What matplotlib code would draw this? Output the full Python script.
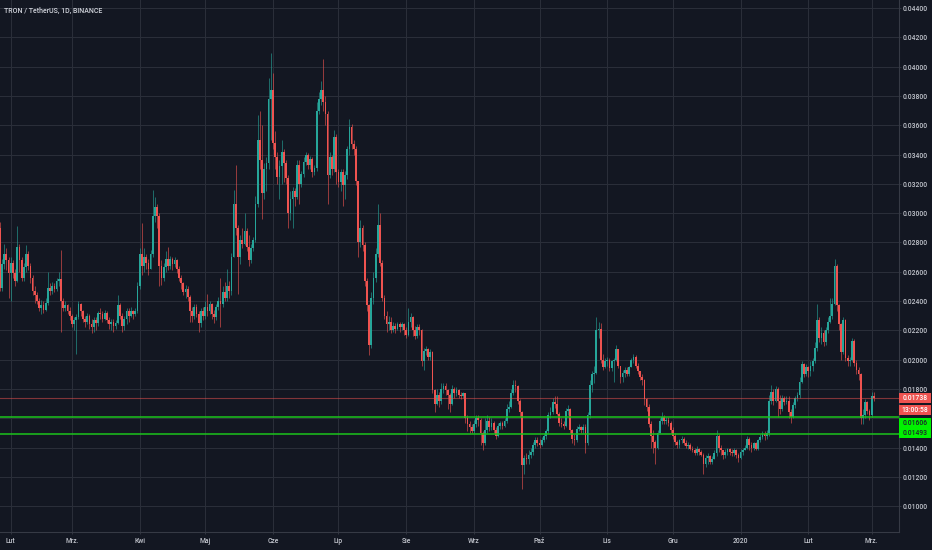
import numpy as np
import matplotlib
matplotlib.use("Agg")
import matplotlib.pyplot as plt
from matplotlib.patches import Rectangle

# ---------------- data (prices in units of 1e-5 USDT) ----------------
SCALE = 1e-5
first_day = -5          # day index of first candle, relative to 2019-02-01
first_open = 2900

closes = [
    2490, 2650, 2720, 2680, 2590, 2660, 2590, 2540, 2770, 2680,
    2560, 2630, 2720, 2640, 2560, 2470, 2440, 2400, 2350, 2370,
    2340, 2390, 2490, 2470, 2500, 2480, 2540, 2550, 2400, 2350,
    2370, 2330, 2300, 2240, 2270, 2290, 2380, 2330, 2280, 2260,
    2300, 2240, 2220, 2270, 2250, 2320, 2310, 2280, 2320, 2270,
    2240, 2260, 2230, 2250, 2370, 2300, 2230, 2280, 2330, 2300,
    2330, 2310, 2330, 2500, 2720, 2640, 2700, 2660, 2620, 2720,
    2980, 3040, 2980, 2640, 2560, 2630, 2690, 2640, 2690, 2650,
    2680, 2620, 2560, 2520, 2460, 2480, 2430, 2330, 2300, 2360,
    2310, 2250, 2330, 2300, 2360, 2330, 2380, 2310, 2290, 2360,
    2400, 2380, 2460, 2420, 2500, 2470, 2700, 3060, 2900, 2700,
    2820, 2790, 2880, 2770, 2680, 2760, 2820, 3060, 3500, 3360,
    3140, 3300, 3340, 3780, 3840, 3480, 3380, 3250, 3320, 3420,
    3340, 3240, 3000, 3100, 3150, 3110, 3330, 3200, 3270, 3350,
    3400, 3330, 3370, 3280, 3310, 3700, 3780, 3840, 3760, 3680,
    3260, 3380, 3300, 3520, 3280, 3210, 3280, 3190, 3260, 3440,
    3590, 3470, 3440, 3220, 2800, 2900, 2780, 2540, 2370, 2100,
    2420, 2560, 2720, 2920, 2660, 2420, 2300, 2240, 2260, 2200,
    2230, 2210, 2240, 2220, 2240, 2200, 2170, 2260, 2290, 2200,
    2160, 2220, 2200, 1990, 2060, 2070, 2020, 2050, 1790, 1700,
    1760, 1720, 1800, 1820, 1790, 1760, 1700, 1800, 1770, 1790,
    1760, 1750, 1770, 1600, 1560, 1540, 1510, 1560, 1600, 1590,
    1500, 1430, 1520, 1580, 1540, 1570, 1520, 1480, 1550, 1570,
    1550, 1580, 1660, 1680, 1770, 1830, 1820, 1720, 1640, 1280,
    1330, 1320, 1350, 1370, 1420, 1450, 1430, 1420, 1450, 1480,
    1510, 1620, 1640, 1710, 1700, 1630, 1570, 1560, 1550, 1650,
    1660, 1520, 1460, 1450, 1530, 1540, 1520, 1540, 1430, 1620,
    1830, 1900, 1910, 2200, 2210, 2000, 1950, 1990, 2000, 1940,
    1990, 2000, 2070, 1960, 1880, 1910, 1930, 1900, 1950, 2000,
    2020, 1960, 1920, 1880, 1860, 1730, 1680, 1560, 1480, 1440,
    1400, 1500, 1580, 1610, 1580, 1590, 1570, 1520, 1480, 1440,
    1420, 1450, 1460, 1430, 1410, 1420, 1390, 1380, 1360, 1390,
    1370, 1350, 1290, 1330, 1340, 1300, 1320, 1360, 1480, 1400,
    1380, 1350, 1370, 1390, 1370, 1360, 1380, 1350, 1330, 1370,
    1380, 1400, 1460, 1420, 1400, 1430, 1390, 1450, 1470, 1490,
    1480, 1500, 1720, 1780, 1720, 1800, 1720, 1660, 1740, 1710,
    1720, 1640, 1610, 1690, 1740, 1760, 1850, 1970, 1900, 1950,
    1920, 1960, 1990, 2080, 2270, 2150, 2180, 2120, 2200, 2260,
    2300, 2380, 2640, 2370, 2240, 2050, 2270, 2010, 1990, 2000,
    2130, 1980, 1930, 1900, 1600, 1620, 1710, 1650, 1620, 1750,
    1738,
]

highs = [
    2940, 2690, 2790, 2760, 2700, 2700, 2680, 2620, 2910, 2790,
    2700, 2660, 2780, 2740, 2660, 2580, 2500, 2460, 2420, 2410,
    2400, 2420, 2600, 2520, 2530, 2520, 2560, 2600, 2750, 2420,
    2400, 2380, 2360, 2310, 2290, 2310, 2400, 2390, 2340, 2300,
    2320, 2310, 2280, 2290, 2290, 2330, 2350, 2330, 2340, 2330,
    2290, 2280, 2280, 2270, 2440, 2390, 2320, 2300, 2350, 2350,
    2360, 2340, 2350, 2530, 2760, 2930, 2760, 2720, 2690, 2750,
    3160, 3110, 3060, 3000, 2680, 2660, 2740, 2770, 2710, 2700,
    2700, 2690, 2640, 2580, 2530, 2510, 2500, 2440, 2360, 2380,
    2380, 2330, 2350, 2360, 2400, 2450, 2400, 2390, 2340, 2380,
    2430, 2560, 2500, 2530, 2620, 2540, 2730, 3160, 3330, 2920,
    2850, 2900, 3000, 2900, 2850, 2790, 2840, 3120, 3670, 3700,
    3600, 3340, 3380, 3920, 4090, 3960, 3560, 3420, 3360, 3500,
    3440, 3360, 3260, 3150, 3180, 3170, 3360, 3360, 3290, 3380,
    3420, 3410, 3390, 3380, 3330, 3760, 3830, 3900, 4050, 3800,
    3700, 3420, 3400, 3570, 3540, 3300, 3300, 3300, 3290, 3460,
    3640, 3610, 3500, 3460, 3220, 2950, 2920, 2800, 2560, 2380,
    2460, 2600, 2760, 3060, 3000, 2680, 2440, 2330, 2300, 2290,
    2260, 2250, 2260, 2260, 2260, 2250, 2220, 2350, 2320, 2300,
    2230, 2240, 2240, 2210, 2080, 2090, 2080, 2070, 2060, 1800,
    1800, 1780, 1840, 1840, 1840, 1800, 1770, 1830, 1810, 1810,
    1800, 1780, 1780, 1770, 1620, 1580, 1560, 1590, 1620, 1620,
    1600, 1510, 1600, 1620, 1610, 1600, 1580, 1540, 1570, 1580,
    1580, 1600, 1700, 1720, 1800, 1860, 1860, 1830, 1730, 1650,
    1350, 1360, 1380, 1400, 1440, 1470, 1470, 1460, 1470, 1500,
    1530, 1640, 1680, 1740, 1750, 1750, 1640, 1600, 1580, 1670,
    1690, 1670, 1530, 1490, 1550, 1560, 1550, 1560, 1560, 1640,
    1860, 1920, 1960, 2290, 2260, 2250, 2040, 2010, 2020, 2010,
    2000, 2010, 2100, 2070, 1960, 1930, 1950, 1950, 1960, 2010,
    2040, 2030, 1980, 1920, 1900, 1870, 1740, 1700, 1580, 1520,
    1450, 1520, 1600, 1640, 1620, 1610, 1610, 1580, 1540, 1500,
    1450, 1460, 1480, 1470, 1450, 1440, 1430, 1410, 1400, 1410,
    1400, 1380, 1360, 1350, 1360, 1350, 1340, 1380, 1520, 1490,
    1420, 1380, 1390, 1400, 1400, 1390, 1400, 1390, 1360, 1390,
    1400, 1420, 1480, 1470, 1440, 1440, 1440, 1460, 1490, 1510,
    1510, 1520, 1760, 1830, 1800, 1820, 1810, 1760, 1760, 1750,
    1750, 1750, 1660, 1710, 1750, 1780, 1880, 1990, 1980, 1970,
    1960, 1990, 2010, 2120, 2380, 2290, 2220, 2200, 2220, 2290,
    2420, 2420, 2690, 2650, 2380, 2250, 2290, 2280, 2030, 2020,
    2150, 2140, 2000, 1950, 1910, 1660, 1730, 1720, 1660, 1780,
    1780,
]

lows = [
    2470, 2470, 2620, 2610, 2420, 2400, 2560, 2500, 2530, 2600,
    2540, 2540, 2600, 2610, 2520, 2440, 2390, 2380, 2330, 2310,
    2320, 2330, 2370, 2440, 2450, 2460, 2470, 2500, 2190, 2330,
    2330, 2310, 2270, 2220, 2200, 2040, 2280, 2300, 2260, 2220,
    2240, 2210, 2180, 2190, 2200, 2230, 2280, 2260, 2270, 2250,
    2210, 2200, 2190, 2210, 2240, 2280, 2190, 2200, 2240, 2260,
    2290, 2280, 2300, 2320, 2480, 2580, 2600, 2620, 2580, 2620,
    2700, 2940, 2900, 2500, 2510, 2540, 2600, 2610, 2620, 2610,
    2630, 2590, 2540, 2480, 2440, 2420, 2400, 2260, 2260, 2280,
    2290, 2190, 2220, 2270, 2280, 2300, 2310, 2280, 2250, 2270,
    2340, 2220, 2360, 2400, 2400, 2420, 2440, 2700, 2850, 2450,
    2650, 2760, 2780, 2740, 2640, 2660, 2740, 2800, 3040, 3300,
    2960, 3100, 3150, 3300, 3500, 3440, 3300, 3200, 3100, 3200,
    3210, 3200, 2900, 2950, 2900, 3050, 3100, 3060, 3180, 3250,
    3330, 3300, 3300, 3250, 3260, 3290, 3680, 3740, 3700, 3600,
    3060, 3240, 3260, 3280, 3200, 3180, 3150, 3050, 3100, 3230,
    3400, 3440, 3400, 3190, 2700, 2770, 2740, 2500, 2330, 2030,
    2080, 2380, 2530, 2700, 2640, 2400, 2280, 2190, 2200, 2180,
    2190, 2180, 2200, 2190, 2200, 2170, 2150, 2160, 2220, 2160,
    2140, 2150, 2170, 1960, 1930, 2030, 2000, 2000, 1770, 1640,
    1690, 1680, 1700, 1770, 1760, 1660, 1640, 1690, 1740, 1750,
    1740, 1730, 1740, 1570, 1510, 1500, 1500, 1500, 1540, 1550,
    1420, 1380, 1420, 1500, 1510, 1520, 1500, 1460, 1470, 1530,
    1530, 1540, 1570, 1640, 1670, 1760, 1780, 1700, 1610, 1120,
    1220, 1290, 1290, 1330, 1350, 1400, 1410, 1400, 1410, 1440,
    1460, 1500, 1600, 1630, 1670, 1620, 1550, 1540, 1530, 1540,
    1620, 1500, 1430, 1420, 1440, 1510, 1500, 1500, 1360, 1420,
    1600, 1780, 1840, 1900, 2150, 1980, 1930, 1940, 1960, 1920,
    1920, 1850, 1990, 1940, 1840, 1850, 1880, 1890, 1890, 1950,
    1980, 1940, 1900, 1860, 1830, 1690, 1650, 1540, 1400, 1360,
    1290, 1390, 1500, 1560, 1560, 1560, 1550, 1500, 1460, 1420,
    1400, 1400, 1430, 1420, 1400, 1390, 1380, 1370, 1350, 1350,
    1350, 1340, 1220, 1270, 1290, 1290, 1290, 1320, 1340, 1370,
    1350, 1320, 1330, 1350, 1350, 1340, 1340, 1330, 1300, 1320,
    1350, 1380, 1390, 1380, 1370, 1380, 1380, 1380, 1440, 1460,
    1450, 1460, 1480, 1700, 1690, 1710, 1610, 1630, 1650, 1690,
    1700, 1600, 1570, 1600, 1670, 1720, 1740, 1840, 1880, 1890,
    1880, 1890, 1920, 1980, 2060, 2120, 2110, 2090, 2100, 2180,
    2250, 2280, 2370, 2330, 2200, 2000, 2040, 1990, 1960, 1960,
    1990, 1960, 1900, 1860, 1560, 1560, 1600, 1630, 1590, 1610,
    1720,
]

month_ticks = [0, 28, 59, 89, 120, 150, 181, 212, 242, 273, 303, 334, 365, 394]
month_labels = ['Lut', 'Mrz.', 'Kwi', 'Maj', 'Cze', 'Lip', 'Sie', 'Wrz',
                'Paź', 'Lis', 'Gru', '2020', 'Lut', 'Mrz.']
price_ticks = [0.010, 0.012, 0.014, 0.016, 0.018, 0.020, 0.022, 0.024, 0.026,
               0.028, 0.030, 0.032, 0.034, 0.036, 0.038, 0.040, 0.042, 0.044]
hidden_tick = 0.016      # label covered by the level boxes in the reference

last_price = 0.01738
countdown = '13:00:58'
levels = [0.01606, 0.01493]
title = 'TRON / TetherUS, 1D, BINANCE'

# ---------------- style ----------------
BG = '#131722'
GRID = '#2a2e39'
SPINE = '#363a45'
TXT = '#c3c6ce'
UP = '#26a69a'
DOWN = '#ef5350'
LEVEL = '#1cc41c'
LEVEL_BOX = '#00f200'
FONT = 'Roboto'
FS = 4.9

W, H = 932, 550
AX_W, AX_H = 899, 532
YMIN, YMAX = 0.008236, 0.04455
XMIN, XMAX = -4.9, 406.5

fig = plt.figure(figsize=(W / 100, H / 100), dpi=100, facecolor=BG)
ax = fig.add_axes([0, (H - AX_H) / H, AX_W / W, AX_H / H])
ax.set_facecolor(BG)

c = np.array(closes, dtype=float) * SCALE
hi = np.array(highs, dtype=float) * SCALE
lo = np.array(lows, dtype=float) * SCALE
o = np.concatenate([[first_open], closes[:-1]]).astype(float) * SCALE
x = np.arange(len(c)) + first_day
up = c >= o
cols = np.where(up, UP, DOWN)

ax.vlines(x, lo, hi, colors=cols, linewidth=0.6, alpha=0.7, zorder=2)
body = np.maximum(np.abs(c - o), 0.00003)
ax.bar(x, body, bottom=np.minimum(o, c), width=0.8, color=cols,
       linewidth=0, zorder=3)

# horizontal price lines
ax.axhline(last_price, color=DOWN, alpha=0.5, linewidth=0.8, zorder=4)
for lv in levels:
    ax.axhline(lv, color=LEVEL, linewidth=1.1, zorder=4)

ax.set_xlim(XMIN, XMAX)
ax.set_ylim(YMIN, YMAX)
ax.set_xticks(month_ticks)
ax.set_xticklabels(month_labels)
ax.set_yticks(price_ticks)
ax.set_yticklabels(['' if abs(p - hidden_tick) < 1e-9 else f'{p:.5f}'
                    for p in price_ticks])
ax.yaxis.tick_right()
ax.grid(True, color=GRID, linewidth=0.75)
ax.set_axisbelow(True)
for s in ['left', 'top']:
    ax.spines[s].set_visible(False)
for s in ['right', 'bottom']:
    ax.spines[s].set_color(SPINE)
    ax.spines[s].set_linewidth(0.8)
ax.tick_params(axis='x', length=1.5, width=0.6, color=SPINE, pad=2.4,
               labelsize=FS, labelcolor=TXT)
ax.tick_params(axis='y', length=1.5, width=0.6, color=SPINE, pad=1.2,
               labelsize=FS, labelcolor=TXT)
for lab in ax.get_xticklabels() + ax.get_yticklabels():
    lab.set_fontfamily(FONT)
    lab.set_fontweight('medium')

# price label boxes on the right axis
px = (YMAX - YMIN) / AX_H          # data units per pixel
bw = 32 / AX_W                     # box width in axes units
tr = ax.get_yaxis_transform()


def box(center, hpx, fc, text, tc):
    ax.add_patch(Rectangle((1.0, center - hpx / 2 * px), bw, hpx * px,
                           transform=tr, facecolor=fc, edgecolor='none',
                           clip_on=False, zorder=10))
    ax.text(1.0 + bw / 2, center, text, transform=tr, ha='center',
            va='center', fontsize=FS, color=tc, family=FONT,
            fontweight='medium', clip_on=False, zorder=11)


box(last_price, 10, '#ef5350', f'{last_price:.5f}', 'white')
box(last_price - 12 * px, 10, '#ef5350', countdown, 'white')
box(levels[0] - 5.5 * px, 10.3, LEVEL_BOX, f'{levels[0]:.5f}', '#1e222d')
box(levels[1] + 0.7 * px, 10.3, LEVEL_BOX, f'{levels[1]:.5f}', '#1e222d')

fig.text(4 / W, 1 - 11 / H, title, ha='left', va='center', fontsize=5.0,
         color='#d1d4dc', family=FONT, fontweight='medium')

fig.savefig('out.png', dpi=100, facecolor=BG)
